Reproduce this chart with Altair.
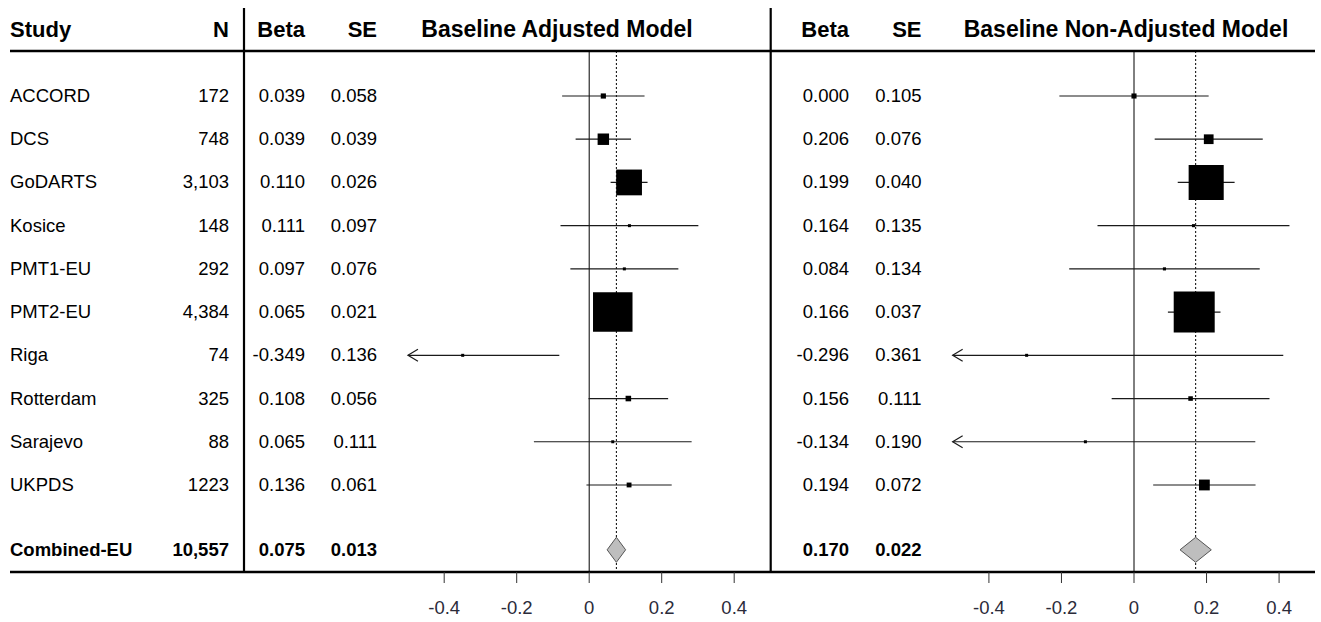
import altair as alt
import pandas as pd

# ---------------- data ----------------
studies = ["ACCORD", "DCS", "GoDARTS", "Kosice", "PMT1-EU", "PMT2-EU",
           "Riga", "Rotterdam", "Sarajevo", "UKPDS"]
n_text = ["172", "748", "3,103", "148", "292", "4,384", "74", "325", "88", "1223"]

# Baseline adjusted model (printed values)
beta_adj = [0.039, 0.039, 0.110, 0.111, 0.097, 0.065, -0.349, 0.108, 0.065, 0.136]
se_adj = [0.058, 0.039, 0.026, 0.097, 0.076, 0.021, 0.136, 0.056, 0.111, 0.061]
# estimates / SEs as drawn in the plot (UKPDS marker sits at ~0.11)
beta_adj_drawn = [0.039, 0.039, 0.110, 0.111, 0.097, 0.065, -0.349, 0.108, 0.065, 0.110]
se_adj_drawn = [0.058, 0.039, 0.026, 0.097, 0.076, 0.021, 0.136, 0.056, 0.111, 0.060]

# Baseline non-adjusted model (printed values)
beta_unadj = [0.000, 0.206, 0.199, 0.164, 0.084, 0.166, -0.296, 0.156, -0.134, 0.194]
se_unadj = [0.105, 0.076, 0.040, 0.135, 0.134, 0.037, 0.361, 0.111, 0.190, 0.072]
# as drawn (Sarajevo's interval reaches ~0.334 in the plot)
se_unadj_drawn = [0.105, 0.076, 0.040, 0.135, 0.134, 0.037, 0.361, 0.111, 0.239, 0.072]

combined_label = "Combined-EU"
combined_n = "10,557"
combined_beta_adj, combined_se_adj = 0.075, 0.013
combined_beta_unadj, combined_se_unadj = 0.170, 0.022

tick_values = [-0.4, -0.2, 0.0, 0.2, 0.4]
tick_labels = ["-0.4", "-0.2", "0", "0.2", "0.4"]

# ---------------- layout ----------------
W, H = 1321, 622
FONT = "Liberation Sans"
BODY = 18.5
HEAD = 22
TITLE = 23
ROW0_PX, ROW_PITCH = 96.0, 43.22
XMIN, XMAX = -0.5, 0.5
ARROW = "M1,-0.6L0,0L1,0.6"


def px_to_row(p):
    return 1 + (p - ROW0_PX) / ROW_PITCH


yscale = alt.Scale(domain=[px_to_row(0), px_to_row(H)], reverse=True, nice=False, zero=False)


def xscale(zero_px, px_per_unit):
    return alt.Scale(domain=[-zero_px / px_per_unit, (W - zero_px) / px_per_unit],
                     nice=False, zero=False)


xs_adj = xscale(589.2, 362.5)
xs_un = xscale(1134.0, 362.7)

rows = list(range(1, len(studies) + 1))
COMB_ROW = len(studies) + 1.5

fmt = lambda v: f"{v:.3f}"
table = pd.DataFrame({
    "study": studies, "n": n_text, "row": rows,
    "b_adj": [fmt(v) for v in beta_adj], "s_adj": [fmt(v) for v in se_adj],
    "b_un": [fmt(v) for v in beta_unadj], "s_un": [fmt(v) for v in se_unadj],
})
comb = pd.DataFrame({
    "study": [combined_label], "n": [combined_n], "row": [COMB_ROW],
    "b_adj": [fmt(combined_beta_adj)], "s_adj": [fmt(combined_se_adj)],
    "b_un": [fmt(combined_beta_unadj)], "s_un": [fmt(combined_se_unadj)],
})
one = pd.DataFrame({"k": [0]})

Yrow = alt.Y("row:Q", scale=yscale, axis=None)

COL_STUDY, COL_N = 10, 229
COL_BADJ, COL_SADJ = 305, 377
COL_BUN, COL_SUN = 849, 921.5


def text_layer(df, field, x, align, bold=False):
    return alt.Chart(df).mark_text(
        align=align, baseline="middle", font=FONT, fontSize=BODY,
        fontWeight="bold" if bold else "normal", color="black"
    ).encode(x=alt.value(x), y=Yrow, text=f"{field}:N")


def header(text, x, align, size=HEAD):
    return alt.Chart(one).mark_text(
        align=align, baseline="middle", font=FONT, fontSize=size, fontWeight="bold",
        color="black", text=text
    ).encode(x=alt.value(x), y=alt.value(30))


def hline(x1, x2, y, w):
    return alt.Chart(one).mark_rule(color="black", strokeWidth=w).encode(
        x=alt.value(x1), x2=alt.value(x2), y=alt.value(y))


def vline(x, y1, y2, w):
    return alt.Chart(one).mark_rule(color="black", strokeWidth=w).encode(
        x=alt.value(x), y=alt.value(y1), y2=alt.value(y2))


def forest(est, se, c_est, c_se, xs, max_side):
    X = lambda f: alt.X(f"{f}:Q", scale=xs, axis=None)
    df = pd.DataFrame({"est": est, "se": se, "row": rows})
    base = alt.Chart(df).transform_calculate(
        lo="datum.est - 1.96*datum.se",
        hi="datum.est + 1.96*datum.se",
        w="1/(datum.se*datum.se)",
    ).transform_calculate(
        lo_c=f"max(datum.lo, {XMIN})", hi_c=f"min(datum.hi, {XMAX})"
    )
    cdf = pd.DataFrame({"est": [c_est], "row": [COMB_ROW]})
    zero = alt.Chart(one).mark_rule(color="black", strokeWidth=1).encode(
        x=alt.X(datum=0, type="quantitative", scale=xs, axis=None),
        y=alt.value(51), y2=alt.value(572))
    dotted = alt.Chart(cdf).mark_rule(color="black", strokeWidth=1, strokeDash=[2, 2]).encode(
        x=X("est"), y=alt.value(51), y2=alt.value(570))
    ci = base.mark_rule(color="#1a1a1a", strokeWidth=1.2).encode(x=X("lo_c"), x2="hi_c:Q", y=Yrow)
    arrows = base.transform_filter(f"datum.lo < {XMIN}").mark_point(
        shape=ARROW, filled=False, color="#1a1a1a", strokeWidth=1.2, size=400, opacity=1
    ).encode(x=X("lo_c"), y=Yrow)
    squares = base.transform_joinaggregate(wmax="max(w)").transform_calculate(
        side=f"max(3, {max_side}*datum.w/datum.wmax)"
    ).transform_calculate(area="datum.side*datum.side").mark_square(
        color="black", opacity=1
    ).encode(x=X("est"), y=Yrow, size=alt.Size("area:Q", scale=None, legend=None))
    half = 12.5 / ROW_PITCH
    lo, hi = c_est - 1.96 * c_se, c_est + 1.96 * c_se
    ddf = pd.DataFrame({"x": [lo, c_est, hi],
                        "y": [COMB_ROW, COMB_ROW - half, COMB_ROW],
                        "y2": [COMB_ROW, COMB_ROW + half, COMB_ROW]})
    diamond = alt.Chart(ddf).mark_area(
        orient="vertical", fill="#bebebe", stroke="#555555", strokeWidth=1, opacity=1
    ).encode(x=X("x"), y=alt.Y("y:Q", scale=yscale, axis=None), y2="y2:Q")
    tdf = pd.DataFrame({"tick": tick_values, "label": tick_labels})
    ticks = alt.Chart(tdf).mark_rule(color="#333333", strokeWidth=1).encode(
        x=X("tick"), y=alt.value(572), y2=alt.value(583))
    tlab = alt.Chart(tdf).mark_text(
        align="center", baseline="middle", font=FONT, fontSize=BODY, color="#2b2b3a"
    ).encode(x=X("tick"), y=alt.value(608), text="label:N")
    return [zero, dotted, ci, arrows, squares, diamond, ticks, tlab]


layers = [
    hline(10, 1315, 51, 2.5),
    hline(10, 1315, 572, 2.5),
    vline(244, 8, 572, 2.2),
    vline(770.7, 8, 572, 2.2),
    header("Study", COL_STUDY, "left"),
    header("N", COL_N, "right"),
    header("Beta", COL_BADJ, "right"),
    header("SE", COL_SADJ, "right"),
    header("Baseline Adjusted Model", 557, "center", TITLE),
    header("Beta", COL_BUN, "right"),
    header("SE", COL_SUN, "right"),
    header("Baseline Non-Adjusted Model", 1126, "center", TITLE),
]
for df, bold in [(table, False), (comb, True)]:
    layers += [
        text_layer(df, "study", COL_STUDY, "left", bold),
        text_layer(df, "n", COL_N, "right", bold),
        text_layer(df, "b_adj", COL_BADJ, "right", bold),
        text_layer(df, "s_adj", COL_SADJ, "right", bold),
        text_layer(df, "b_un", COL_BUN, "right", bold),
        text_layer(df, "s_un", COL_SUN, "right", bold),
    ]
layers += forest(beta_adj_drawn, se_adj_drawn, combined_beta_adj, combined_se_adj, xs_adj, 39.5)
layers += forest(beta_unadj, se_unadj_drawn, combined_beta_unadj, combined_se_unadj, xs_un, 41)

chart = alt.layer(*layers).resolve_scale(x="independent").properties(
    width=W, height=H, padding=0,
    autosize=alt.AutoSizeParams(type="none"),
    background="white",
).configure_view(stroke=None)

chart.save("out.html", embed_options={"renderer": "svg", "actions": False})
